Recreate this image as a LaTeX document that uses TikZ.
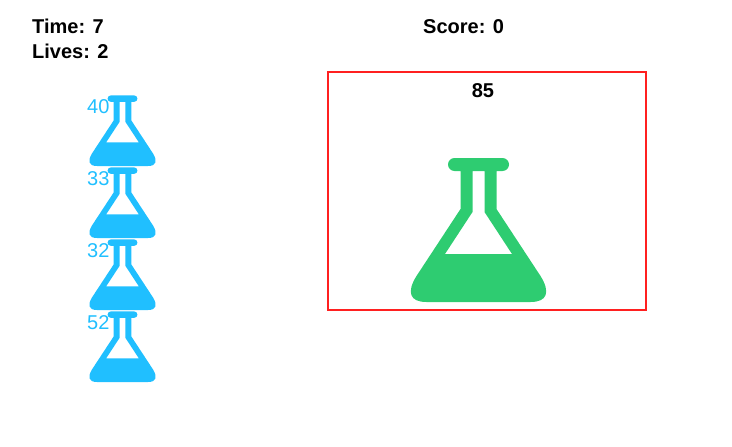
\documentclass[tikz,border=0pt]{standalone}
\usepackage{fontspec}
\setmainfont{Liberation Sans}
\usepackage{tikz}
\usetikzlibrary{positioning}

\definecolor{flaskblue}{HTML}{20BFFF}
\definecolor{flaskgreen}{HTML}{2ECC71}
\definecolor{boxred}{HTML}{FF2020}

\tikzset{
    hudtext/.style={
        anchor=base west,
        inner sep=0pt,
        font=\fontsize{20}{24}\selectfont\bfseries
    },
    flasknum/.style={
        anchor=base west,
        inner sep=0pt,
        text=flaskblue,
        font=\fontsize{20}{24}\selectfont
    },
    flask/.pic={
        \fill[even odd rule]
            (-24,-144) -- (24,-144)
            arc[start angle=-90, end angle=90, radius=6.5]
            -- (18,-131) -- (18,-93) -- (62,-26)
            .. controls (72,-10) and (69,0) .. (52,0)
            -- (-52,0)
            .. controls (-69,0) and (-72,-10) .. (-62,-26)
            -- (-18,-93) -- (-18,-131) -- (-24,-131)
            arc[start angle=90, end angle=270, radius=6.5]
            -- cycle
            (-6,-131) -- (-6,-90) -- (-33.5,-48) -- (33.5,-48)
            -- (6,-90) -- (6,-131) -- cycle;
    }
}

\begin{document}
\begin{tikzpicture}[
    x=1pt,
    y=-1pt
]

\useasboundingbox (0,0) rectangle (732,447);

% =================================================
% TOP LINE
% =================================================

\node[hudtext] (time) at (32,34) {Time: 7};
\node[hudtext] (lives) at (32,58) {Lives: 2};
\node[hudtext] (score) at (423,34) {Score: 0};

% =================================================
% LEFT COLUMN: FALLING FLASKS
% =================================================

\foreach \y/\n in {
    166/40,
    238/33,
    310/32,
    382/52
}{

    % Flask
    \pic[
        flaskblue,
        scale=0.49
    ] at (122.5,\y) {flask};

    % Number
    \node[flasknum] (num\n) at (87,\y-52.5) {\n};
}

% =================================================
% RIGHT PANEL: CURRENT FLASK
% =================================================

% Red frame
\draw[
    draw=boxred,
    line width=2pt
] (327.5,72) rectangle (646,310);

\node[
    hudtext,
    anchor=center
] (current) at (483,91) {85};

\pic[
    flaskgreen
] at (478.5,302) {flask};

\end{tikzpicture}
\end{document}
